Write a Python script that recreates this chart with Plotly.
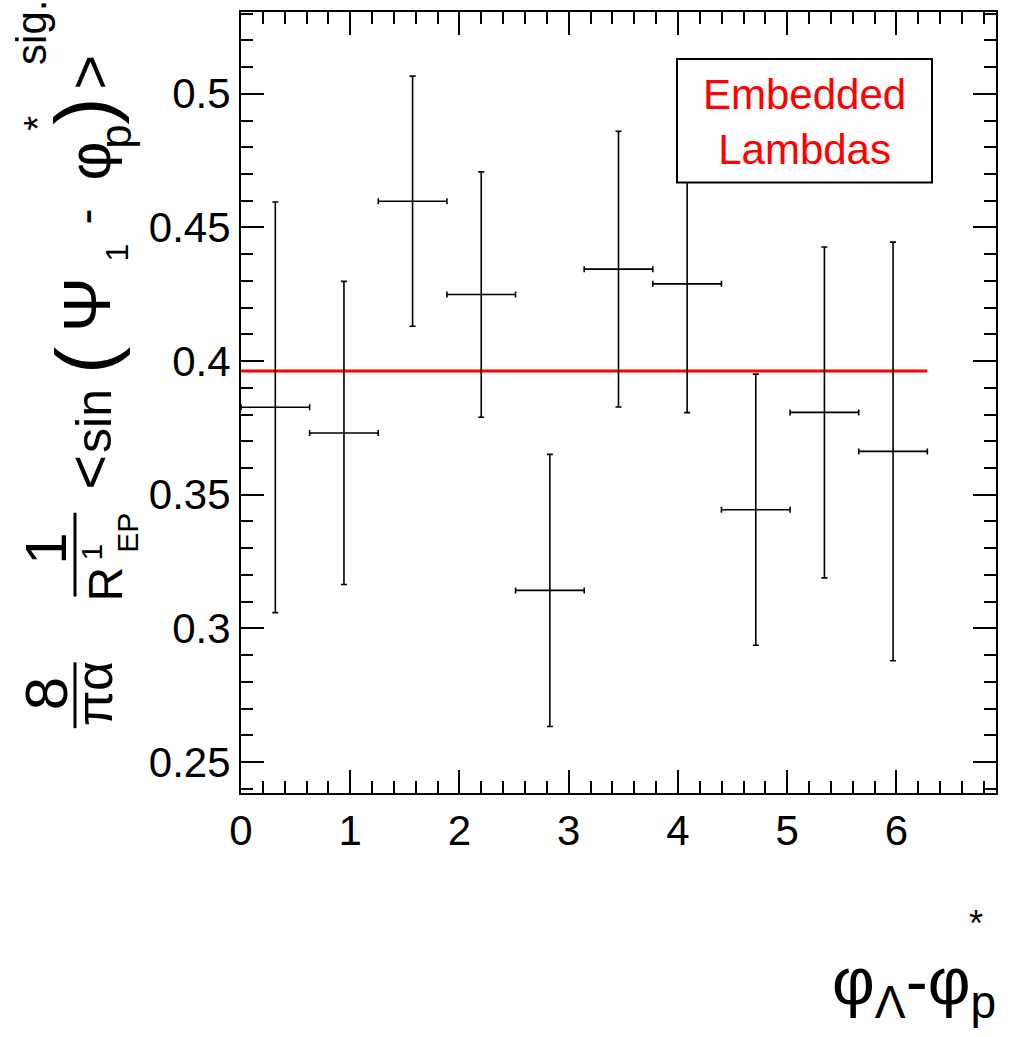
import math
import plotly.graph_objects as go

# Bin layout: 10 bins of width 2*pi/10 over [0, 2*pi]
bin_width = 2 * math.pi / 10
bin_centers = [bin_width * (i + 0.5) for i in range(10)]

# <sin(Psi_1 - phi*_p)> signal values per bin and their statistical errors
signal_values = [0.3827, 0.3731, 0.4598, 0.4249, 0.3142, 0.4344, 0.4289, 0.3444, 0.3808, 0.3662]
signal_errors = [0.0768, 0.0567, 0.0468, 0.0459, 0.0509, 0.0516, 0.0482, 0.0507, 0.0619, 0.0783]

# Constant fit over the full azimuthal range
fit_value = 0.3963
fit_range = [0.0, 2 * math.pi]

x_ticks = [0, 1, 2, 3, 4, 5, 6]
y_ticks = [0.25, 0.3, 0.35, 0.4, 0.45, 0.5]
x_range = [0.0, 2.2 * math.pi]
y_range = [0.2384, 0.5306]

W, H = 1010, 1037
ML, MR, MT, MB = 241, 14, 10, 244
PW, PH = W - ML - MR, H - MT - MB

FONT = "Liberation Sans, Arial, Helvetica, sans-serif"


def px(x):
    return (x - ML) / PW


def py(y):
    return (H - MB - y) / PH


def note(x, y, text, size, color="black", angle=0, xa="center", ya="middle", **kw):
    return dict(xref="paper", yref="paper", x=px(x), y=py(y), text=text,
                textangle=angle, xanchor=xa, yanchor=ya, showarrow=False,
                font=dict(family=FONT, size=size, color=color), **kw)


def vnote(y, x, text, size):
    # rotated piece of the y-axis title, centred at pixel (x, y)
    return note(x, y, text, size, angle=-90)


fig = go.Figure()

fig.add_trace(go.Scatter(
    x=fit_range, y=[fit_value, fit_value], mode="lines",
    line=dict(color="#ff0000", width=3), hoverinfo="skip", showlegend=False,
))

fig.add_trace(go.Scatter(
    x=bin_centers, y=signal_values, mode="markers",
    marker=dict(size=1, color="black"),
    error_y=dict(type="data", array=signal_errors, color="black", thickness=1.6, width=3),
    error_x=dict(type="data", array=[bin_width / 2] * 10, color="black", thickness=1.6, width=3),
    showlegend=False,
))

axis_common = dict(
    showgrid=False, zeroline=False, showline=True, linecolor="black", linewidth=2,
    mirror="allticks", ticks="inside", tickcolor="black", tickwidth=1.5,
    tickfont=dict(family=FONT, size=42, color="black"),
)

fig.update_xaxes(
    range=x_range, tickvals=x_ticks, ticklen=23,
    minor=dict(ticks="inside", dtick=0.2, ticklen=12, tickcolor="black", tickwidth=1.5),
    **axis_common,
)
fig.update_yaxes(
    range=y_range, tickvals=y_ticks, ticklen=23,
    minor=dict(ticks="inside", dtick=0.01, ticklen=12, tickcolor="black", tickwidth=1.5),
    **axis_common,
)

shapes = []
annotations = []

# Label box
shapes.append(dict(type="rect", xref="paper", yref="paper",
                   x0=px(677), x1=px(932), y0=py(181), y1=py(57),
                   fillcolor="white", line=dict(color="black", width=2), layer="above"))
annotations.append(note(804, 120, "Embedded<br>Lambdas", 42, color="#ff0000", align="center"))

# Y-axis title: 8/(pi alpha) * 1/R^1_EP * <sin(Psi_1 - phi*_p)>^sig.
annotations += [
    # first fraction
    vnote(694, 46, "8", 60),
    vnote(694, 94, "πα", 52),
    # second fraction
    vnote(548, 46, "1", 58),
    vnote(584, 106, "R", 48),
    vnote(552, 92, "1", 30),
    vnote(532, 128, "EP", 30),
    # average
    vnote(472, 90, "&lt;", 60),
    vnote(420, 94, "sin", 50),
    vnote(360, 84, "(", 82),
    vnote(304, 87, "Ψ", 66),
    vnote(251, 117, "1", 32),
    vnote(215, 85, "-", 48),
    vnote(160, 90, "φ", 60),
    vnote(135, 116, "p", 44),
    vnote(122, 38, "*", 38),
    vnote(110, 84, ")", 82),
    vnote(71, 90, "&gt;", 60),
    vnote(31, 32, "sig.", 42),
]
shapes += [
    dict(type="line", xref="paper", yref="paper", x0=px(75), x1=px(75), y0=py(662), y1=py(728),
         line=dict(color="black", width=3)),
    dict(type="line", xref="paper", yref="paper", x0=px(75), x1=px(75), y0=py(512), y1=py(596),
         line=dict(color="black", width=3)),
]

# X-axis title
annotations += [
    note(998, 986, "φ<sub>Λ</sub>-φ<sub>p</sub>", 66, xa="right"),
    note(976, 924, "*", 36),
]

fig.update_layout(
    width=W, height=H,
    margin=dict(l=ML, r=MR, t=MT, b=MB),
    paper_bgcolor="white", plot_bgcolor="white",
    shapes=shapes, annotations=annotations,
    showlegend=False,
)

fig.write_html("out.html")
